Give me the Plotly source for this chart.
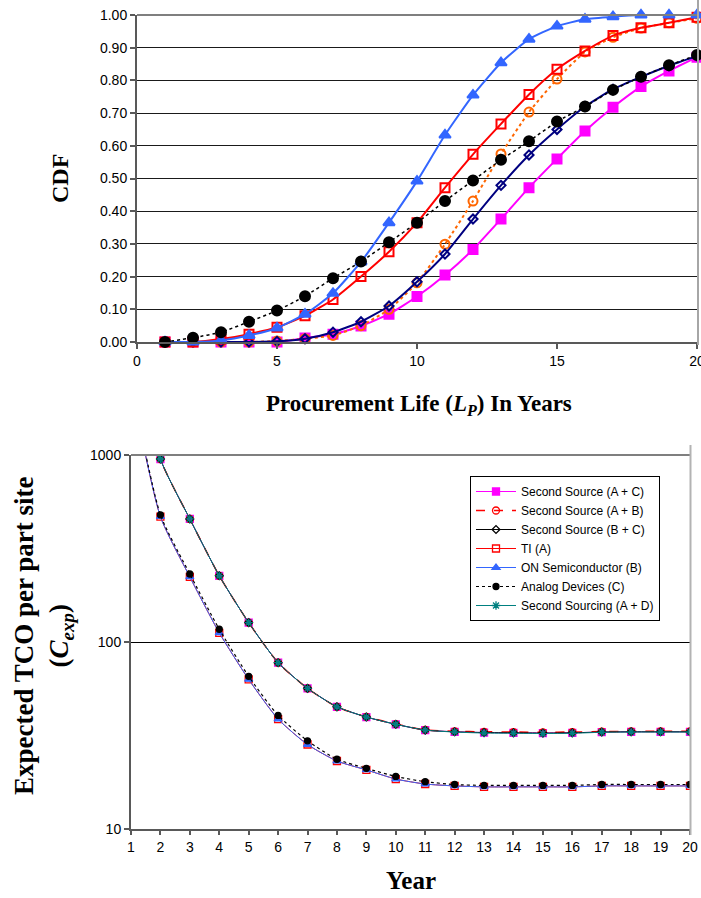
import plotly.graph_objects as go

# ---------------- data ----------------
years = list(range(1, 21))

# Cumulative distribution of procurement life (top panel)
cdf_a_c = [0, 0, 0, 0, 0, 0.012, 0.024, 0.049, 0.085, 0.139, 0.205, 0.283, 0.376, 0.472,
           0.560, 0.645, 0.718, 0.781, 0.829, 0.871]
cdf_a_b = [0, 0, 0, 0, 0.003, 0.010, 0.020, 0.050, 0.100, 0.181, 0.299, 0.431, 0.575, 0.703,
           0.804, 0.887, 0.932, 0.960, 0.976, 0.990]
cdf_b_c = [0, 0, 0, 0, 0.002, 0.010, 0.030, 0.062, 0.110, 0.184, 0.269, 0.376, 0.479, 0.572,
           0.650, 0.720, 0.773, 0.811, 0.845, 0.875]
cdf_ti = [0, 0, 0.009, 0.024, 0.045, 0.080, 0.130, 0.200, 0.276, 0.365, 0.472, 0.574, 0.667,
          0.757, 0.834, 0.890, 0.937, 0.961, 0.976, 0.993]
cdf_on = [0, 0, 0.005, 0.020, 0.043, 0.085, 0.149, 0.245, 0.365, 0.492, 0.633, 0.755, 0.854,
          0.926, 0.966, 0.987, 0.995, 1.0, 1.0, 1.0]
cdf_ad = [0, 0.013, 0.030, 0.062, 0.096, 0.140, 0.195, 0.246, 0.305, 0.365, 0.431, 0.494,
          0.557, 0.614, 0.674, 0.720, 0.771, 0.811, 0.846, 0.878]

# Expected TCO per part site by year (bottom panel)
tco_a_c = [4800, 952, 455, 226, 127, 77.5, 56.5, 45.0, 39.7, 36.3, 33.8, 33.1, 32.8, 32.7,
           32.6, 32.7, 33.0, 33.1, 33.1, 33.1]
tco_a_b = [4800, 952, 455, 226, 127, 77.5, 56.5, 45.0, 39.8, 36.4, 33.9, 33.3, 33.1, 33.0,
           32.9, 33.0, 33.2, 33.3, 33.3, 33.3]
tco_b_c = [4800, 952, 455, 226, 127, 77.5, 56.5, 45.0, 39.7, 36.3, 33.8, 33.1, 32.8, 32.7,
           32.6, 32.7, 33.0, 33.1, 33.1, 33.1]
tco_ti = [2400, 468, 223, 112, 63.1, 38.7, 28.3, 23.1, 20.7, 18.5, 17.4, 17.0, 16.8, 16.8,
          16.8, 16.8, 17.0, 17.0, 17.0, 17.0]
tco_on = [2400, 468, 223, 112, 63.1, 38.7, 28.3, 23.1, 20.7, 18.5, 17.4, 17.0, 16.8, 16.8,
          16.8, 16.8, 17.0, 17.0, 17.0, 17.0]
tco_ad = [2460, 479, 231, 117, 65.5, 40.5, 29.6, 23.6, 21.1, 19.1, 17.9, 17.3, 17.1, 17.1,
          17.1, 17.1, 17.3, 17.3, 17.3, 17.3]
tco_a_d = [4800, 952, 455, 226, 127, 77.5, 56.5, 45.0, 39.7, 36.3, 33.8, 33.0, 32.6, 32.5,
           32.4, 32.5, 32.9, 33.0, 33.0, 33.0]

names = ["Second Source (A + C)", "Second Source (A + B)", "Second Source (B + C)",
         "TI (A)", "ON Semiconductor (B)", "Analog Devices (C)", "Second Sourcing (A + D)"]

MAGENTA = "#FF00FF"
RED = "#FF0000"
ORANGE = "#FF6600"
NAVY = "#000080"
BLUE = "#3366FF"
BLACK = "#000000"
TEAL = "#008080"

TICK_FONT = dict(family="Liberation Sans", size=14, color="black")
SERIF = "Liberation Serif"
W, H = 701, 898


def px(x, y):
    """Convert a pixel position (from the top-left) to paper coordinates."""
    return x / W, 1 - y / H


fig = go.Figure()

# ---------------- top panel: CDF ----------------
top_series = [
    (cdf_a_c, MAGENTA, "solid", 2, "square", MAGENTA, 9),
    (cdf_a_b, ORANGE, "dot", 2, "circle-open", ORANGE, 9),
    (cdf_b_c, NAVY, "solid", 2, "diamond-open", NAVY, 7),
    (cdf_ti, RED, "solid", 2, "square-open", RED, 9),
    (cdf_on, BLUE, "solid", 2, "triangle-up", BLUE, 10),
    (cdf_ad, BLACK, "dot", 1.5, "circle", BLACK, 10),
]
for name, (vals, lc, dash, lw, sym, mc, ms) in zip(names, top_series):
    fig.add_trace(go.Scatter(
        x=years, y=vals, mode="lines+markers", name=name, showlegend=False,
        xaxis="x", yaxis="y", cliponaxis=False,
        line=dict(color=lc, dash=dash, width=lw, shape="spline", smoothing=0.5),
        marker=dict(symbol=sym, size=ms, color=mc, line=dict(color=mc, width=2)),
    ))

# ---------------- bottom panel: expected TCO ----------------
bottom_series = [
    (tco_a_c, MAGENTA, "solid", 1, "square", MAGENTA, 7),
    (tco_a_b, RED, "dash", 1.5, "circle-open", RED, 7),
    (tco_b_c, BLACK, "solid", 1, "diamond-open", BLACK, 6),
    (tco_ti, RED, "solid", 1, "square-open", RED, 7),
    (tco_on, BLUE, "solid", 1, "triangle-up", BLUE, 7),
    (tco_ad, BLACK, "dot", 1.2, "circle", BLACK, 6),
    (tco_a_d, TEAL, "solid", 1, "asterisk-open", TEAL, 7),
]
for name, (vals, lc, dash, lw, sym, mc, ms) in zip(names, bottom_series):
    fig.add_trace(go.Scatter(
        x=years, y=vals, mode="lines+markers", name=name, showlegend=True,
        xaxis="x2", yaxis="y2",
        line=dict(color=lc, dash=dash, width=lw, shape="spline", smoothing=0.6),
        marker=dict(symbol=sym, size=ms, color=mc, line=dict(color=mc, width=1.3)),
    ))

axis_common = dict(showline=True, linecolor="#595959", linewidth=2, ticks="outside",
                   tickcolor="#595959", tickwidth=1.5, tickfont=TICK_FONT, zeroline=False,
                   automargin=False, ticklabeloverflow="allow")

# axis titles placed as paper annotations
titles = [
    ("<b>CDF</b>", 60, 179, 24, -90),
    ("<b>Procurement Life (<i>L</i><sub><i>P</i></sub>) In Years</b>", 419, 405, 23, 0),
    ("<b>Expected TCO per part site<br>(<i>C<sub>exp</sub></i>)</b>", 43, 636, 27, -90),
    ("<b>Year</b>", 411, 880.5, 25, 0),
]
annotations = []
for text, x, y, size, angle in titles:
    ax_, ay_ = px(x, y)
    annotations.append(dict(text=text, x=ax_, y=ay_, xref="paper", yref="paper",
                            xanchor="center", yanchor="middle", showarrow=False,
                            textangle=angle,
                            font=dict(family=SERIF, size=size, color="black")))

fig.update_layout(
    width=W, height=H,
    margin=dict(l=0, r=0, t=0, b=0, autoexpand=False),
    paper_bgcolor="white", plot_bgcolor="white",
    xaxis=dict(domain=[137 / W, 697 / W], range=[0, 20], tickvals=[0, 5, 10, 15, 20],
               ticklen=5, showgrid=False, anchor="y", **axis_common),
    yaxis=dict(domain=[1 - 342 / H, 1 - 15 / H], range=[0, 1], dtick=0.1, tickformat=".2f",
               ticklen=5, showgrid=True, gridcolor="#1a1a1a", gridwidth=1, anchor="x",
               **axis_common),
    xaxis2=dict(domain=[131 / W, 690 / W], range=[1, 20], dtick=1, ticklen=4,
                showgrid=False, anchor="y2", **axis_common),
    yaxis2=dict(domain=[1 - 829 / H, 1 - 455 / H], type="log", range=[1, 3],
                tickvals=[10, 100, 1000], ticktext=["10", "100", "1000"], ticklen=5,
                showgrid=True, gridcolor="#000000", gridwidth=1, anchor="x2",
                **axis_common),
    legend=dict(x=470 / W, y=1 - 476 / H, xanchor="left", yanchor="top",
                bgcolor="white", bordercolor="black", borderwidth=1,
                font=dict(family="Liberation Sans", size=12, color="black"),
                itemwidth=40, tracegroupgap=0),
    annotations=annotations,
    shapes=[
        # top border of each plot area
        dict(type="line", xref="x domain", yref="y domain", x0=0, x1=1, y0=1, y1=1,
             line=dict(color="#7f7f7f", width=2)),
        dict(type="line", xref="x2 domain", yref="y2 domain", x0=0, x1=1, y0=1, y1=1,
             line=dict(color="#7f7f7f", width=2)),
        # right-hand frame edges
        dict(type="line", xref="paper", yref="paper", x0=698 / W, x1=698 / W,
             y0=1 - 345 / H, y1=1, line=dict(color="#a6a6a6", width=2)),
        dict(type="line", xref="paper", yref="paper", x0=690.5 / W, x1=690.5 / W,
             y0=1 - 835 / H, y1=1 - 445 / H, line=dict(color="#b3b3b3", width=2)),
    ],
)

fig.write_html("out.html")
